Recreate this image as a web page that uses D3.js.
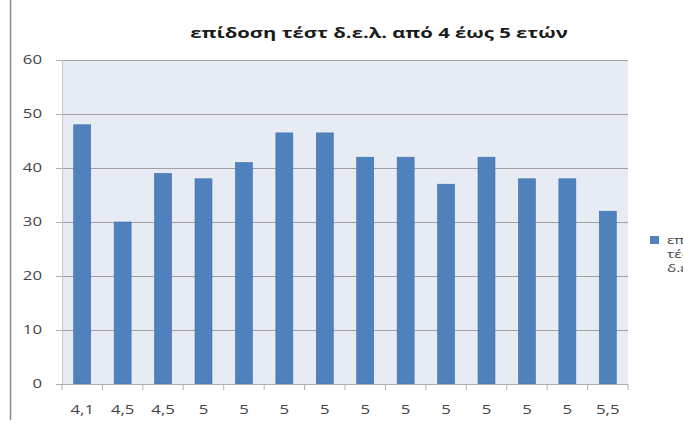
<!DOCTYPE html>
<html><head><meta charset="utf-8">
<script src="https://cdn.jsdelivr.net/npm/d3@7"></script>
<style>body{margin:0;background:#fff;overflow:hidden}svg{display:block}</style>
</head><body>
<svg id="c" width="683" height="423"></svg>
<script>
const categories = ["4,1","4,5","4,5","5","5","5","5","5","5","5","5","5","5","5,5"];
const values = [48,30,39,38,41,46.5,46.5,42,42,37,42,38,38,32];
const yTicks = [0,10,20,30,40,50,60];
const title = "επίδοση τέστ δ.ε.λ. από 4 έως 5 ετών";
const legendLines = ["επίδοση","τέστ","δ.ε.λ."];

const svg = d3.select("#c");
const m = {l:62, r:628, t:60, b:384};
const x = d3.scaleBand().domain(d3.range(categories.length)).range([m.l, m.r]).paddingInner(0.58).paddingOuter(0.29);
const y = d3.scaleLinear().domain([0,60]).range([m.b, m.t]);
const font = "'Open Sans', 'DejaVu Sans', sans-serif";
const SX = 1.4;

function stretched(g, px, py, txt, anchor, size, weight, fill){
  g.append("text").attr("transform",`translate(${px},${py}) scale(${SX},1)`)
    .attr("text-anchor",anchor).attr("font-family",font).attr("font-size",size)
    .attr("font-weight",weight||"normal").attr("fill",fill||"#444").text(txt);
}

svg.append("line").attr("x1",10.5).attr("x2",10.5).attr("y1",0).attr("y2",420).attr("stroke","#8a8a8a").attr("stroke-width",1.5);

svg.append("rect").attr("x",m.l).attr("y",m.t).attr("width",m.r-m.l).attr("height",m.b-m.t).attr("fill","#E7ECF4");

// gridlines
svg.append("g").selectAll("line").data(yTicks.filter(d=>d>0)).join("line")
  .attr("x1",m.l).attr("x2",m.r).attr("y1",d=>Math.round(y(d))+0.5).attr("y2",d=>Math.round(y(d))+0.5)
  .attr("stroke","#a0a0a0").attr("stroke-width",1);

// y axis
const ya = svg.append("g").attr("transform",`translate(${m.l},0)`)
  .call(d3.axisLeft(y).tickValues(yTicks).tickSize(6).tickFormat(""));
ya.select(".domain").attr("stroke","#c8c8c8");
ya.selectAll(".tick line").attr("stroke","#b0b0b0");
const yl = svg.append("g");
yTicks.forEach(t => stretched(yl, 42, y(t)+4, d3.format("d")(t), "end", 12, "normal", "#444"));

// bars
svg.append("g").selectAll("rect").data(values).join("rect")
  .attr("x",(d,i)=>x(i)).attr("y",d=>y(d)).attr("width",x.bandwidth()).attr("height",d=>y(0)-y(d))
  .attr("fill","#4F81BD").attr("stroke","#3f6fa8").attr("stroke-width",0.6);

// x axis
const step = x.step();
svg.append("line").attr("x1",m.l).attr("x2",m.r).attr("y1",m.b+0.5).attr("y2",m.b+0.5).attr("stroke","#b0b0b0");
svg.append("g").selectAll("line").data(d3.range(categories.length+1)).join("line")
  .attr("x1",i=>m.l+i*step).attr("x2",i=>m.l+i*step).attr("y1",m.b).attr("y2",m.b+6).attr("stroke","#b0b0b0");
const xl = svg.append("g");
categories.forEach((c,i) => stretched(xl, x(i)+x.bandwidth()/2, 414, c, "middle", 12, "normal", "#444"));

// title
stretched(svg, 379, 38, title, "middle", 14.5, "bold", "#1a1a1a");

// legend
svg.append("rect").attr("x",650).attr("y",236).attr("width",9).attr("height",8).attr("fill","#4F81BD");
const lg = svg.append("g");
legendLines.forEach((t,i) => stretched(lg, 667, 244+i*14, t, "start", 11, "normal", "#444"));
</script>
</body></html>
